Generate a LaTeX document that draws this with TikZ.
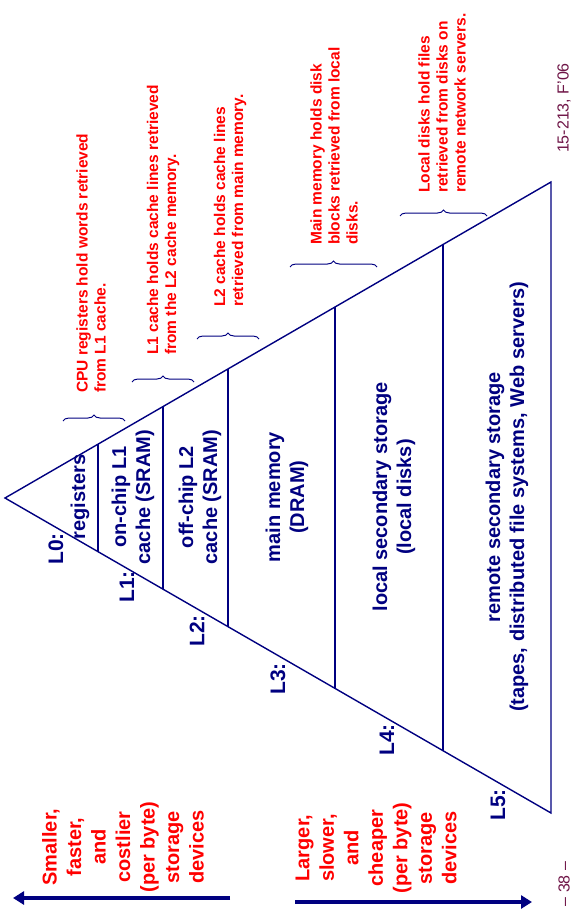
\documentclass[tikz,border=0pt]{standalone}
\usepackage{fontspec}
\setmainfont{Liberation Sans}
\usetikzlibrary{calc,arrows.meta,decorations.pathreplacing}

\definecolor{navy}{RGB}{0,0,128}
\definecolor{slidered}{RGB}{255,0,0}
\definecolor{footcol}{RGB}{110,20,70}

\tikzset{
  tier/.style={rotate=90,align=center,text=navy,font=\bfseries\fontsize{20}{24}\selectfont},
  lname/.style={rotate=90,text=navy,font=\bfseries\fontsize{21}{24}\selectfont},
  memo/.style={rotate=90,anchor=west,align=left,inner sep=0pt,text=slidered,font=\bfseries\fontsize{15.5}{18}\selectfont},
  sidetxt/.style={rotate=90,align=center,text=slidered,font=\bfseries\fontsize{20}{24.5}\selectfont},
  pagefoot/.style={rotate=90,inner sep=0pt,text=footcol,font=\fontsize{16}{18}\selectfont},
  brc/.style={draw=navy,line width=1pt,decorate,decoration={brace,amplitude=6pt}},
  bigarrow/.style={draw=navy,line width=4pt,-{Triangle[length=11pt,width=13pt]}}
}

\begin{document}
\begin{tikzpicture}[x=1pt,y=1pt]
\useasboundingbox (0,0) rectangle (573,-915);

% pyramid, lying on its side
\coordinate (apex) at (5,-498);
\coordinate (top) at (551,-182);
\coordinate (bot) at (551,-813);
\draw[navy,line width=1.4pt] (apex) -- (top) -- (bot) -- cycle;
\foreach \t in {0.1703,0.2894,0.4084,0.6044,0.8022}
  \draw[navy,line width=1.2pt] ($(apex)!\t!(top)$) -- ($(apex)!\t!(bot)$);

% levels
\node (reg) at (80,-497)[tier]{registers};
\node (onchip) at (133,-497)[tier]{on-chip L1\\cache (SRAM)};
\node (offchip) at (200,-497)[tier]{off-chip L2\\cache (SRAM)};
\node (dram) at (287,-497)[tier]{main memory\\(DRAM)};
\node (localdisk) at (394,-497)[tier]{local secondary storage\\(local disks)};
\node (remote) at (507,-497)[tier]{remote secondary storage\\(tapes, distributed file systems, Web servers)};

\node (n0) at (56,-549)[lname]{L0:};
\node (n1) at (127,-587)[lname]{L1:};
\node (n2) at (197,-631)[lname]{L2:};
\node (n3) at (278,-679)[lname]{L3:};
\node (n4) at (387,-740)[lname]{L4:};
\node (n5) at (498,-805)[lname]{L5:};

% what each level holds
\node (cpunote) at (91,-393)[memo]{CPU registers hold words retrieved\\from L1 cache.};
\node (l1note) at (163,-355)[memo]{L1 cache holds cache lines retrieved\\from the L2 cache memory.};
\node (l2note) at (230,-307)[memo]{L2 cache holds cache lines\\retrieved from main memory.};
\node (memnote) at (334,-245)[memo]{Main memory holds disk\\blocks retrieved from local\\disks.};
\node (disknote) at (442,-193)[memo]{Local disks hold files\\retrieved from disks on\\remote network servers.};

\draw[brc] (63,-421) -- (125,-421);
\draw[brc] (132,-382) -- (194,-382);
\draw[brc] (197,-339) -- (259,-339);
\draw[brc] (290,-267) -- (377,-267);
\draw[brc] (400,-216) -- (487,-216);

% direction arrows
\node (small) at (123,-847)[sidetxt]{Smaller,\\faster,\\and\\costlier\\(per byte)\\storage\\devices};
\node (large) at (376,-848)[sidetxt]{Larger,\\slower,\\and\\cheaper\\(per byte)\\storage\\devices};
\coordinate (sa) at (230,-898);
\coordinate (sb) at (13,-898);
\coordinate (la) at (295,-902);
\coordinate (lb) at (532,-902);
\draw[bigarrow] (sa) -- (sb);
\draw[bigarrow] (la) -- (lb);

\node (course) at (564,-108)[pagefoot]{15-213, F'06};
\node (page) at (564,-884)[pagefoot]{-- 38 --};
\end{tikzpicture}
\end{document}
